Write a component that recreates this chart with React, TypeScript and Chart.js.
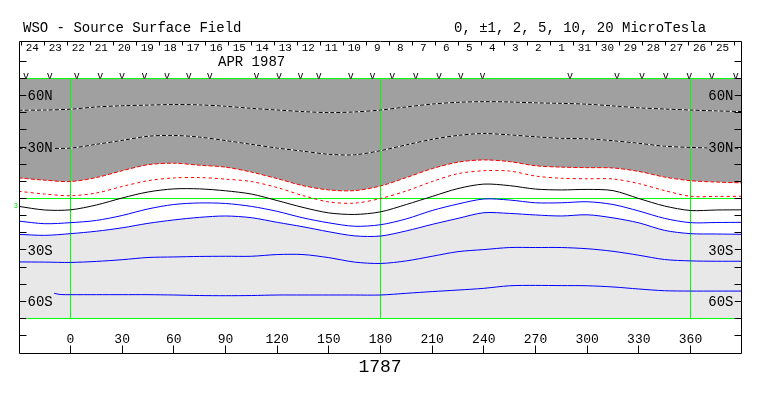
import React, { useEffect, useRef } from "react";
import { Chart, registerables } from "chart.js";
Chart.register(...registerables);

// Carrington longitude samples (degrees)
const LONS = [-30, -15, 0, 15, 30, 45, 60, 75, 90, 105, 120, 135, 150, 165, 180, 195, 210, 225, 240, 255, 270, 285, 300, 315, 330, 345, 360, 375, 390];

// Contour latitudes (degrees) at LONS
const DASHED_NORTH_1 = [51.5, 51.6, 52.1, 53.4, 54.1, 54.5, 54.8, 54.6, 53.8, 52.6, 51.6, 50.7, 50.1, 50.5, 51.6, 53.4, 55.1, 56.1, 56.5, 56.3, 55.8, 55.5, 55.0, 54.0, 52.9, 52.2, 51.6, 51.1, 50.7];
const DASHED_NORTH_2 = [29.3, 29.3, 29.4, 31.6, 33.9, 36.3, 36.8, 35.8, 33.8, 31.6, 29.4, 27.6, 25.8, 25.5, 27.9, 31.3, 34.5, 36.8, 37.9, 37.1, 36.0, 35.1, 34.8, 33.7, 32.2, 30.5, 29.8, 29.4, 29.3];
const RED_UPPER = [12.0, 10.7, 9.9, 12.2, 16.2, 19.7, 20.6, 19.4, 18.3, 15.4, 11.6, 7.5, 5.0, 4.6, 7.3, 12.2, 17.4, 21.2, 22.5, 21.5, 19.1, 18.3, 18.0, 17.8, 15.8, 12.5, 10.4, 9.6, 9.1];
const RED_LOWER = [4.2, 2.6, 1.6, 3.2, 7.0, 10.4, 12.0, 12.2, 11.3, 9.9, 6.4, 1.7, -2.0, -2.7, 0.0, 4.4, 9.9, 14.5, 16.2, 16.0, 13.1, 11.8, 11.5, 11.4, 8.7, 4.6, 1.3, 1.2, 1.3];
const NEUTRAL_LINE = [-4.6, -6.7, -6.6, -3.8, 0.3, 3.8, 5.6, 5.6, 4.5, 2.6, -1.2, -5.2, -8.4, -9.3, -7.8, -3.5, 1.2, 5.8, 8.4, 7.5, 5.5, 5.0, 5.3, 4.6, 0.0, -4.4, -7.0, -6.7, -6.6];
const BLUE_1 = [-13.2, -14.7, -14.1, -12.8, -9.9, -6.1, -3.5, -2.6, -2.9, -4.6, -7.5, -11.3, -14.2, -16.2, -15.3, -11.9, -7.0, -3.2, -0.3, -0.9, -2.5, -2.5, -1.9, -3.5, -7.3, -11.6, -14.1, -14.0, -13.9];
const BLUE_2 = [-20.9, -21.5, -20.5, -19.1, -17.1, -14.5, -12.5, -11.0, -10.2, -11.2, -13.9, -16.5, -19.4, -21.8, -21.9, -18.9, -15.1, -11.6, -8.3, -8.7, -9.6, -10.2, -9.5, -11.3, -14.2, -18.6, -20.5, -20.7, -20.9];
const BLUE_3 = [-37.0, -37.1, -37.3, -36.7, -35.7, -34.4, -34.1, -33.8, -33.7, -33.7, -32.7, -32.7, -34.5, -37.1, -37.9, -36.4, -33.7, -31.0, -29.8, -28.6, -28.6, -28.6, -29.3, -30.8, -33.1, -35.6, -36.4, -36.6, -36.6];
const BLUE_4_LONS = [-9.5, -6, 0, 15, 30, 45, 60, 75, 90, 105, 120, 135, 150, 165, 180, 195, 210, 225, 240, 255, 270, 285, 300, 315, 330, 345, 360, 375, 390];
const BLUE_4 = [-55.3, -56.0, -56.1, -56.1, -56.1, -56.1, -56.3, -56.6, -56.7, -56.6, -56.3, -56.3, -56.3, -56.3, -56.3, -55.3, -54.3, -53.4, -52.4, -50.9, -50.7, -50.8, -50.9, -51.6, -52.8, -53.8, -54.0, -54.0, -54.0];

// Axis / annotation values
const X_MIN = -29.9;
const X_MAX = 389.33;
const Y_MIN = -90.125;
const Y_MAX = 91.875;
const X_TICKS = [0, 30, 60, 90, 120, 150, 180, 210, 240, 270, 300, 330, 360];
const LAT_TICKS = [-80, -70, -60, -50, -40, -30, -20, -10, 0, 10, 20, 30, 40, 50, 60, 70, 80];
const LAT_LABEL_VALUES = [60, 30, -30, -60];
const LAT_LABEL_TEXT = ["60N", "30N", "30S", "60S"];
const GRID_LONS = [0, 180, 360];
const DAY_LABELS = ["24", "23", "22", "21", "20", "19", "18", "17", "16", "15", "14", "13", "12", "11", "10", "9", "8", "7", "6", "5", "4", "3", "2", "1", "31", "30", "29", "28", "27", "26", "25"];
const DAY_START_LON = -28.9;
const DAY_STEP_LON = 13.36;
const OBS_LONS = [-25.8, -12.1, 3.6, 17.3, 29.9, 42.9, 56.1, 68.6, 80.8, 108.0, 121.0, 133.6, 144.2, 162.7, 175.3, 186.9, 200.5, 214.0, 226.6, 239.3, 290.0, 317.4, 331.9, 345.6, 359.3, 372.3, 386.3];
const TITLE = "WSO - Source Surface Field";
const LEVELS_TEXT = "0, ±1, 2, 5, 10, 20 MicroTesla";
const MONTH_TEXT = "APR 1987";
const ROTATION_TEXT = "1787";
const LAT_TOP = 70;
const LAT_BOTTOM = -70;

const FONT = '"Liberation Mono", "DejaVu Sans Mono", monospace';
const DARK = "#a0a0a0";
const LIGHT = "#e8e8e8";
const GREEN = "#00ff00";

const pts = (lats: number[], lons: number[] = LONS) => lats.map((y, i) => ({ x: lons[i], y }));

function ds(data: any[], color: string, extra: any = {}) {
  return {
    data,
    borderColor: color,
    borderWidth: 1,
    pointRadius: 0,
    fill: false,
    tension: 0.3,
    ...extra,
  };
}

const decor = {
  id: "decor",
  afterDatasetsDraw(chart: any) {
    const { ctx, chartArea: a, scales } = chart;
    const xs = scales.x;
    const ys = scales.y;
    const L = Math.round(a.left) + 0.5;
    const R = Math.round(a.right) + 0.5;
    const T = Math.round(a.top) + 0.5;
    const B = Math.round(a.bottom) + 0.5;
    ctx.save();
    ctx.strokeStyle = "#000";
    ctx.fillStyle = "#000";
    ctx.lineWidth = 1;

    // frame
    ctx.beginPath();
    ctx.moveTo(L, T);
    ctx.lineTo(R, T);
    ctx.lineTo(R, B);
    ctx.lineTo(L, B);
    ctx.closePath();
    ctx.stroke();

    // latitude ticks both sides
    ctx.beginPath();
    LAT_TICKS.forEach((v) => {
      const y = Math.round(ys.getPixelForValue(v) - 0.5) + 0.5;
      ctx.moveTo(L, y);
      ctx.lineTo(L + 7, y);
      ctx.moveTo(R - 7, y);
      ctx.lineTo(R, y);
    });
    ctx.stroke();

    // latitude labels
    ctx.font = "14px " + FONT;
    ctx.textBaseline = "middle";
    LAT_LABEL_VALUES.forEach((v, i) => {
      const t = LAT_LABEL_TEXT[i];
      const y = ys.getPixelForValue(v);
      const w = ctx.measureText(t).width;
      const bg = v > 0 ? DARK : LIGHT;
      const lx = L + 8;
      const rx = R - 8 - w;
      ctx.fillStyle = bg;
      ctx.fillRect(lx - 1, y - 6, w + 2, 12);
      ctx.fillRect(rx - 1, y - 6, w + 2, 12);
      ctx.fillStyle = "#000";
      ctx.textAlign = "left";
      ctx.fillText(t, lx, y + 1);
      ctx.fillText(t, rx, y + 1);
    });

    // x ticks and labels
    ctx.beginPath();
    X_TICKS.forEach((v) => {
      const x = Math.round(xs.getPixelForValue(v) - 0.5) + 0.5;
      ctx.moveTo(x, B - 8);
      ctx.lineTo(x, B);
    });
    ctx.stroke();
    ctx.font = "13px " + FONT;
    ctx.textAlign = "center";
    ctx.textBaseline = "alphabetic";
    X_TICKS.forEach((v) => {
      ctx.fillText(String(v), xs.getPixelForValue(v), B - 11);
    });

    // rotation number
    ctx.font = "18px " + FONT;
    ctx.fillText(ROTATION_TEXT, (a.left + a.right) / 2, B + 18);

    // header texts
    ctx.font = "14px " + FONT;
    ctx.textAlign = "left";
    ctx.fillText(TITLE, 23, 31.5);
    ctx.fillText(LEVELS_TEXT, 454, 31.5);
    ctx.fillText(MONTH_TEXT, 218, 65.5);

    // day ticks and labels
    ctx.beginPath();
    for (let k = 0; k <= DAY_LABELS.length; k++) {
      const x = Math.round(xs.getPixelForValue(DAY_START_LON + k * DAY_STEP_LON)) + 0.5;
      ctx.moveTo(x, T);
      ctx.lineTo(x, T + 4);
    }
    ctx.stroke();
    ctx.font = "11px " + FONT;
    ctx.textAlign = "center";
    DAY_LABELS.forEach((d, k) => {
      const x = xs.getPixelForValue(DAY_START_LON + (k + 0.5) * DAY_STEP_LON);
      ctx.fillText(d, x, T + 9);
    });

    // observation marks
    ctx.font = "10px " + FONT;
    const vy = ys.getPixelForValue(LAT_TOP) + 0.5;
    OBS_LONS.forEach((lon) => {
      ctx.fillText("v", xs.getPixelForValue(lon), vy);
    });

    // small green equator marker
    ctx.fillStyle = "#00dd00";
    ctx.font = "7px " + FONT;
    ctx.textAlign = "right";
    ctx.textBaseline = "middle";
    ctx.fillText("3", L - 1.5, ys.getPixelForValue(-4.5));
    ctx.restore();
  },
};

export default function App() {
  const ref = useRef<HTMLCanvasElement>(null);
  useEffect(() => {
    const full = (v: number) => LONS.map((x) => ({ x, y: v }));
    const datasets: any[] = [
      ds(pts(NEUTRAL_LINE), "#000000"),
      ds(pts(RED_UPPER), "#ff0000", { borderDash: [4, 2], fill: 17, backgroundColor: DARK }),
      ds(pts(RED_LOWER), "#ff0000", { borderDash: [3, 3] }),
      ds(pts(BLUE_1), "#0000ff"),
      ds(pts(BLUE_2), "#0000ff", { fill: 18, backgroundColor: LIGHT }),
      ds(pts(BLUE_3), "#0000ff"),
      ds(pts(BLUE_4, BLUE_4_LONS), "#0000ff"),
      ds(pts(DASHED_NORTH_1), "#000000", { borderDash: [4, 2] }),
      ds(pts(DASHED_NORTH_1), "#ffffff"),
      ds(pts(DASHED_NORTH_2), "#000000", { borderDash: [4, 2] }),
      ds(pts(DASHED_NORTH_2), "#ffffff"),
      ds([{ x: -30, y: 0 }, { x: 390, y: 0 }], GREEN, { tension: 0 }),
      ds([{ x: -30, y: LAT_TOP }, { x: 390, y: LAT_TOP }], GREEN, { tension: 0 }),
      ds([{ x: -25.2, y: LAT_BOTTOM }, { x: 386.6, y: LAT_BOTTOM }], GREEN, { tension: 0 }),
      ...GRID_LONS.map((g) => ds([{ x: g, y: LAT_BOTTOM }, { x: g, y: LAT_TOP }], GREEN, { tension: 0 })),
    ];
    // fill boundaries (indices 17, 18)
    datasets.push(ds(full(LAT_TOP), "rgba(0,0,0,0)", { borderWidth: 0, tension: 0 }));
    datasets.push(ds(full(LAT_BOTTOM), "rgba(0,0,0,0)", { borderWidth: 0, tension: 0 }));

    const chart = new Chart(ref.current as HTMLCanvasElement, {
      type: "line",
      data: { datasets },
      options: {
        responsive: false,
        maintainAspectRatio: false,
        animation: false,
        devicePixelRatio: 1,
        layout: { padding: { left: 19, right: 22, top: 41, bottom: 43 } },
        scales: {
          x: { type: "linear", min: X_MIN, max: X_MAX, display: false },
          y: { type: "linear", min: Y_MIN, max: Y_MAX, display: false },
        },
        plugins: {
          legend: { display: false },
          tooltip: { enabled: false },
          filler: { drawTime: "beforeDatasetsDraw" },
        } as any,
        elements: { point: { radius: 0 } },
      },
      plugins: [decor],
    } as any);
    return () => chart.destroy();
  }, []);
  return (
    <div style={{ position: "fixed", left: 0, top: 0, width: 763, height: 396, background: "#fff" }}>
      <canvas ref={ref} width={763} height={396} style={{ display: "block", width: 763, height: 396 }} />
    </div>
  );
}
